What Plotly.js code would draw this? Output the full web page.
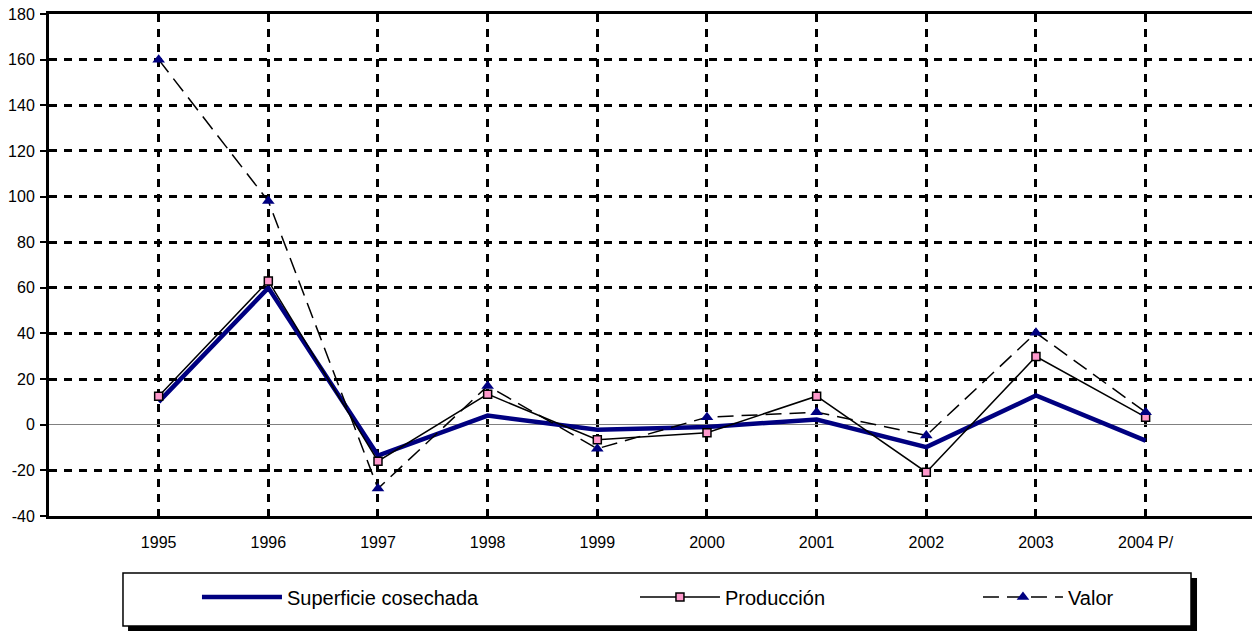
<!DOCTYPE html>
<html>
<head>
<meta charset="utf-8">
<script src="https://cdn.plot.ly/plotly-3.0.1.min.js"></script>
<style>html,body{margin:0;padding:0;background:#fff;}#chart{width:1252px;height:631px;}</style>
</head>
<body>
<div id="chart"></div>
<script>
const years = ["1995","1996","1997","1998","1999","2000","2001","2002","2003","2004 P/"];
const superficie = [10, 60, -13.5, 4, -2.2, -1, 2.3, -9.8, 12.8, -7];
const produccion = [12.5, 63, -16, 13.4, -6.6, -3.5, 12.5, -20.8, 29.9, 3.3];
const valor = [160, 98, -28, 17, -10.5, 3.3, 5.5, -4.7, 40.3, 5.5];
const yTicks = [-40, -20, 0, 20, 40, 60, 80, 100, 120, 140, 160, 180];

const FONT = "Liberation Sans, Arial, sans-serif";

const traces = [
  {
    x: years, y: superficie, name: "Superficie cosechada", type: "scatter", mode: "lines",
    line: {color: "#000080", width: 4.5}, legendwidth: 343
  },
  {
    x: years, y: produccion, name: "Producción", type: "scatter", mode: "lines+markers",
    line: {color: "#000000", width: 1.5},
    marker: {symbol: "square", size: 8, color: "#FF99CC", line: {color: "#000000", width: 1.5}},
    legendwidth: 248
  },
  {
    x: years, y: valor, name: "Valor", type: "scatter", mode: "lines+markers",
    line: {color: "#000000", width: 1.5, dash: "16px,8px"},
    marker: {symbol: "triangle-up", size: 11, color: "#000080", line: {color: "#000080", width: 0}}
  }
];

const layout = {
  width: 1252, height: 631,
  margin: {l: 49, r: 0, t: 14, b: 115, pad: 0},
  paper_bgcolor: "#ffffff", plot_bgcolor: "#ffffff",
  font: {family: FONT, color: "#000000", size: 16},
  showlegend: true,
  legend: {
    orientation: "h", x: 0.123, xanchor: "left", y: -0.1614, yanchor: "middle",
    font: {family: FONT, size: 20, color: "#000000"},
    bgcolor: "rgba(0,0,0,0)", borderwidth: 0, itemwidth: 80, traceorder: "normal"
  },
  xaxis: {
    type: "category", range: [-1, 9.97], fixedrange: true,
    showgrid: true, gridcolor: "#000000", gridwidth: 3, griddash: "8px,7px",
    showline: true, linecolor: "#000000", linewidth: 3, mirror: true,
    ticks: "", ticklabelstandoff: 10,
    tickfont: {family: FONT, size: 16, color: "#000000"},
    zeroline: false
  },
  yaxis: {
    range: [-40, 180], fixedrange: true,
    tickmode: "array", tickvals: yTicks, ticktext: yTicks.map(String),
    showgrid: true, gridcolor: "#000000", gridwidth: 3, griddash: "8px,7px",
    showline: true, linecolor: "#000000", linewidth: 3, mirror: false,
    ticks: "outside", ticklen: 6, tickwidth: 2, tickcolor: "#000000", ticklabelstandoff: 2,
    tickfont: {family: FONT, size: 16, color: "#000000"},
    zeroline: true, zerolinecolor: "#808080", zerolinewidth: 1.2
  },
  shapes: [
    {type: "rect", xref: "paper", yref: "paper", x0: 0.0657, x1: 0.9543, y0: -0.1235, y1: -0.2291,
     layer: "above", fillcolor: "#000000", line: {width: 0}},
    {type: "rect", xref: "paper", yref: "paper", x0: 0.0615, x1: 0.9493, y0: -0.1135, y1: -0.2191,
     layer: "above", fillcolor: "#ffffff", line: {color: "#000000", width: 1.5}}
  ]
};

Plotly.newPlot("chart", traces, layout, {displayModeBar: false, staticPlot: true});
</script>
</body>
</html>
